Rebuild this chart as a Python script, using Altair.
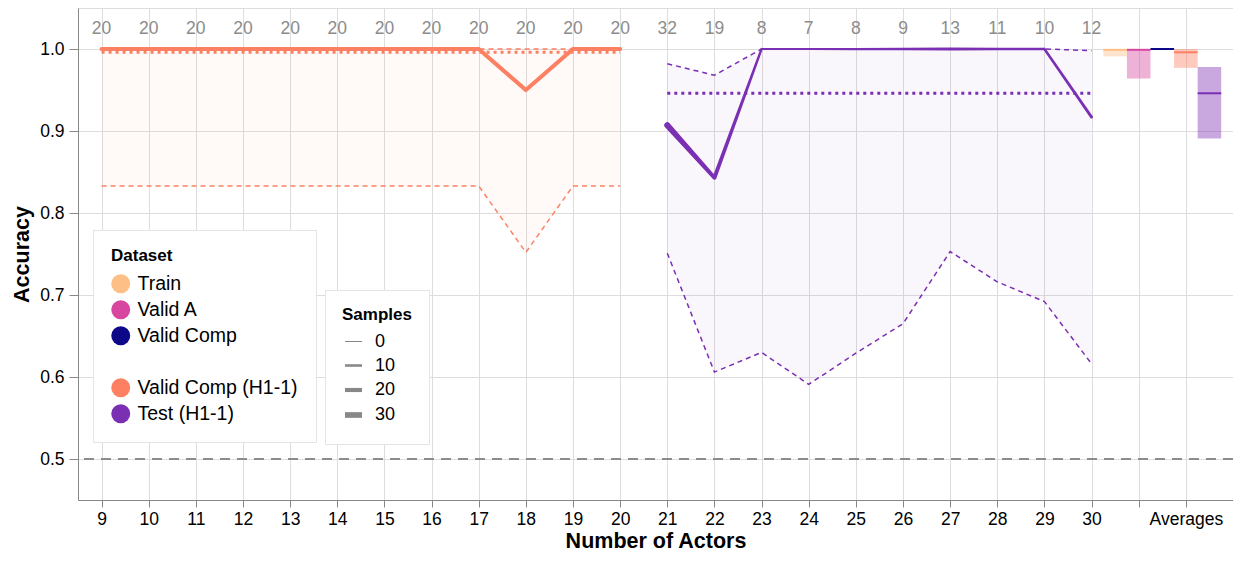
import altair as alt
import pandas as pd

# ---------------- data ----------------
dataset_names = ["Train", "Valid A", "Valid Comp", " ", "Valid Comp (H1-1)", "Test (H1-1)"]
dataset_colors = ["#fdbf85", "#d8479f", "#0d0887", "#ffffff", "#fd8063", "#7b2fb3"]

vc_actors = [9, 10, 11, 12, 13, 14, 15, 16, 17, 18, 19, 20]
vc_samples = [20, 20, 20, 20, 20, 20, 20, 20, 20, 20, 20, 20]
vc_acc = [1.0, 1.0, 1.0, 1.0, 1.0, 1.0, 1.0, 1.0, 1.0, 0.95, 1.0, 1.0]
vc_lo = [0.833, 0.833, 0.833, 0.833, 0.833, 0.833, 0.833, 0.833, 0.833, 0.752, 0.833, 0.833]
vc_hi = [1.0, 1.0, 1.0, 1.0, 1.0, 1.0, 1.0, 1.0, 1.0, 1.0, 1.0, 1.0]
vc_mean = 0.996

test_actors = [21, 22, 23, 24, 25, 26, 27, 28, 29, 30]
test_samples = [32, 19, 8, 7, 8, 9, 13, 11, 10, 12]
test_acc = [0.907, 0.843, 1.0, 1.0, 1.0, 1.0, 1.0, 1.0, 1.0, 0.917]
test_lo = [0.751, 0.606, 0.630, 0.591, 0.629, 0.665, 0.753, 0.716, 0.692, 0.616]
test_hi = [0.982, 0.968, 1.0, 1.0, 1.0, 1.0, 1.0, 1.0, 1.0, 0.998]
test_mean = 0.946

avg_names = ["Train", "Valid A", "Valid Comp", "Valid Comp (H1-1)", "Test (H1-1)"]
avg_pos = [30.5, 31.0, 31.5, 32.0, 32.5]
avg_mean = [0.999, 0.999, 1.0, 0.996, 0.946]
avg_lo = [0.991, 0.964, 1.0, 0.977, 0.891]
avg_hi = [1.0, 1.0, 1.0, 1.0, 0.978]
avg_halfwidth = 0.25

x_ticks = list(range(9, 34))
y_ticks = [0.5, 0.6, 0.7, 0.8, 0.9, 1.0]
chance_level = 0.5
count_label_level = 1.025
sample_legend_values = [0, 10, 20, 30]

# ---------------- tables ----------------
per_actor = pd.DataFrame({
    "actors": vc_actors + test_actors,
    "samples": vc_samples + test_samples,
    "acc": vc_acc + test_acc,
    "lo": vc_lo + test_lo,
    "hi": vc_hi + test_hi,
    "Dataset": ["Valid Comp (H1-1)"] * len(vc_actors) + ["Test (H1-1)"] * len(test_actors),
})
means = pd.DataFrame({
    "x1": [min(vc_actors), min(test_actors)],
    "x2": [max(vc_actors), max(test_actors)],
    "mean": [vc_mean, test_mean],
    "Dataset": ["Valid Comp (H1-1)", "Test (H1-1)"],
})
avgs = pd.DataFrame({
    "Dataset": avg_names,
    "x1": [p - avg_halfwidth for p in avg_pos],
    "x2": [p + avg_halfwidth for p in avg_pos],
    "mean": avg_mean,
    "lo": avg_lo,
    "hi": avg_hi,
})

FONT = "Liberation Sans"
color_scale = alt.Scale(domain=dataset_names, range=dataset_colors)
x_scale = alt.Scale(domain=[8.5, 33], nice=False, zero=False)
y_scale = alt.Scale(domain=[0.45, 1.05], nice=False, zero=False)

x_axis = alt.Axis(
    values=x_ticks,
    labelExpr="datum.value <= 30 ? datum.label : (datum.value == 32 ? 'Averages' : '')",
    title="Number of Actors",
    grid=True,
    tickSize=7,
    labelPadding=3,
    titlePadding=3,
)
y_axis = alt.Axis(values=y_ticks, format=".1f", title="Accuracy", grid=True,
                  tickSize=9, labelPadding=5, titlePadding=6)

X = alt.X("actors:Q", scale=x_scale, axis=x_axis)

color_legend = alt.Legend(
    title="Dataset",
    orient="none",
    legendX=15,
    legendY=222,
    symbolType="circle",
    symbolSize=360,
    symbolOpacity=1,
    symbolStrokeWidth=0,
    symbolDash=[1, 0],
    fillColor="white",
    strokeColor="#e4e4e4",
    padding=18,
    rowPadding=5,
    labelOffset=7,
    labelLimit=400,
    labelFontSize=19.5,
    titleFontSize=17,
    titlePadding=9,
    labelFont=FONT,
    titleFont=FONT,
)


def color_enc():
    return alt.Color("Dataset:N", scale=color_scale, legend=color_legend)


avg_bars = alt.Chart(avgs).mark_bar(opacity=0.42).encode(
    x=alt.X("x1:Q", scale=x_scale, axis=x_axis), x2="x2:Q",
    y=alt.Y("lo:Q", scale=y_scale, axis=y_axis), y2="hi:Q",
    color=color_enc(),
)

area = alt.Chart(per_actor).mark_area(opacity=0.045).encode(
    x=X,
    y=alt.Y("lo:Q", scale=y_scale, axis=y_axis),
    y2="hi:Q",
    color=color_enc(),
)

lo_line = alt.Chart(per_actor).mark_line(strokeDash=[5, 4], strokeWidth=1.5).encode(
    x=X, y=alt.Y("lo:Q", scale=y_scale, axis=y_axis),
    color=color_enc(),
)
hi_line = alt.Chart(per_actor).mark_line(strokeDash=[5, 4], strokeWidth=1.5).encode(
    x=X, y=alt.Y("hi:Q", scale=y_scale, axis=y_axis),
    color=color_enc(),
)

mean_rules = alt.Chart(means).mark_rule(strokeDash=[3, 4], strokeWidth=3).encode(
    x=alt.X("x1:Q", scale=x_scale, axis=x_axis), x2="x2:Q",
    y=alt.Y("mean:Q", scale=y_scale, axis=y_axis),
    color=color_enc(),
)

trail = alt.Chart(per_actor).mark_trail().encode(
    x=X,
    y=alt.Y("acc:Q", scale=y_scale, axis=y_axis),
    size=alt.Size(
        "samples:Q",
        scale=alt.Scale(domain=[0, 32], range=[1, 6]),
        legend=alt.Legend(
            title="Samples",
            orient="none",
            legendX=247,
            legendY=282,
            values=sample_legend_values,
            symbolSize=290,
            fillColor="white",
            strokeColor="#e4e4e4",
            padding=17,
            rowPadding=4.5,
            labelOffset=10,
            labelFontSize=18,
            titleFontSize=17,
            titlePadding=8,
            labelFont=FONT,
            titleFont=FONT,
        ),
    ),
    color=color_enc(),
)

chance = alt.Chart(per_actor).mark_rule(strokeDash=[10, 7], strokeWidth=2, color="#8c8c8c").encode(
    y=alt.datum(chance_level, scale=y_scale)
)

counts = alt.Chart(per_actor).mark_text(fontSize=17.5, color="#8c8c8c", font=FONT).encode(
    x=X,
    y=alt.datum(count_label_level),
    text="samples:Q",
)

avg_means = alt.Chart(avgs).mark_rule(strokeWidth=2).encode(
    x=alt.X("x1:Q", scale=x_scale, axis=x_axis), x2="x2:Q",
    y=alt.Y("mean:Q", scale=y_scale, axis=y_axis),
    color=color_enc(),
)

chart = alt.layer(
    avg_bars, area, lo_line, hi_line, mean_rules, trail, chance, counts, avg_means
).properties(
    width=1155,
    height=492,
    autosize=alt.AutoSizeParams(type="none"),
    padding={"left": 70, "top": 0, "right": 0, "bottom": 55},
).configure_view(
    stroke="#dddddd"
).configure_axis(
    labelFont=FONT,
    titleFont=FONT,
    labelFontSize=17.5,
    titleFontSize=21.5,
    labelColor="#000000",
    titleColor="#000000",
    gridColor="#dddddd",
    domainColor="#888888",
    tickColor="#888888",
).configure_legend(
    labelColor="#000000",
    titleColor="#000000",
)

chart.save("out.html", embed_options={"renderer": "svg", "actions": False})
